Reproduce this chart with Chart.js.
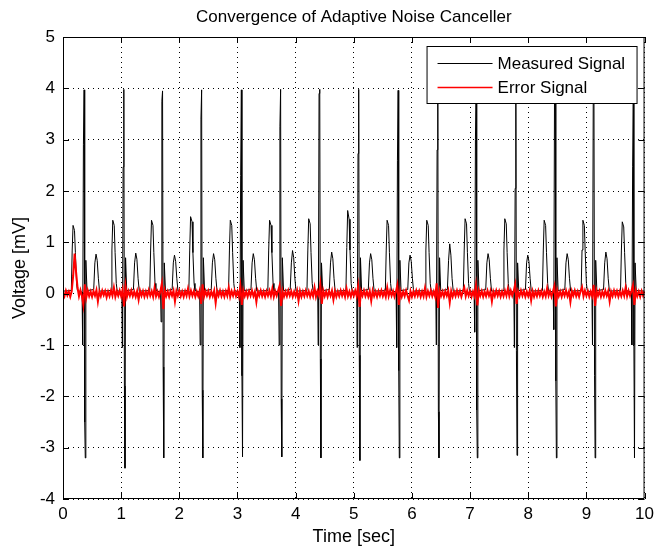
<!DOCTYPE html>
<html>
<head>
<meta charset="utf-8">
<script src="https://cdn.jsdelivr.net/npm/chart.js@4.4.1/dist/chart.umd.min.js"></script>
<style>
  html, body { margin: 0; padding: 0; background: #fff; }
  #wrap { width: 659px; height: 552px; }
</style>
</head>
<body>
<div id="wrap"><canvas id="ancChart" width="659" height="552"></canvas></div>
<script>
const chartTitle = 'Convergence of Adaptive Noise Canceller';
const xTitle = 'Time [sec]';
const yTitle = 'Voltage [mV]';
const seriesNames = ['Measured Signal', 'Error Signal'];
const seriesColors = ['#000000', '#ff0000'];
const xTicks = [0, 1, 2, 3, 4, 5, 6, 7, 8, 9, 10];
const yTicks = [-4, -3, -2, -1, 0, 1, 2, 3, 4, 5];

// measured ECG trace, [time (s), voltage (mV)], one line per wave
const measured = [
  [0, 0.05],
  [0.143,0.06],[0.158,0.85],[0.173,1.33],[0.198,1.23],[0.213,0.8],[0.233,0.2],[0.248,0.06],
  [0.328,0.03],[0.338,-1.0],[0.351,2.9],[0.363,3.97],[0.373,-2.5],[0.383,-3.2],[0.393,0.65],[0.413,0.06],
  [0.528,0.08],[0.548,0.6],[0.568,0.77],[0.588,0.65],[0.608,0.3],[0.628,0.05],
  [0.826,0.06],[0.841,0.85],[0.856,1.43],[0.881,1.33],[0.896,0.8],[0.916,0.2],[0.931,0.06],
  [1.011,0.03],[1.021,-1.05],[1.034,2.47],[1.046,3.98],[1.056,-1.8],[1.066,-3.4],[1.076,0.7],[1.096,0.06],
  [1.211,0.08],[1.231,0.6],[1.251,0.79],[1.271,0.67],[1.291,0.3],[1.311,0.05],
  [1.492,0.06],[1.507,0.85],[1.522,1.43],[1.547,1.33],[1.562,0.8],[1.582,0.2],[1.597,0.06],
  [1.677,0.03],[1.687,-0.55],[1.700,3.75],[1.712,3.95],[1.722,-1.43],[1.732,-3.2],[1.742,0.6],[1.762,0.06],
  [1.877,0.08],[1.897,0.6],[1.917,0.75],[1.937,0.63],[1.957,0.3],[1.977,0.05],
  [2.164,0.06],[2.179,0.85],[2.194,1.5],[2.219,1.4],[2.234,0.8],[2.254,0.2],[2.269,0.06],
  [2.349,0.03],[2.359,-1.0],[2.372,3.4],[2.384,3.97],[2.394,-1.88],[2.404,-3.2],[2.414,0.7],[2.434,0.06],
  [2.549,0.08],[2.569,0.6],[2.589,0.78],[2.609,0.66],[2.629,0.3],[2.649,0.05],
  [2.847,0.06],[2.862,0.85],[2.877,1.43],[2.902,1.33],[2.917,0.8],[2.937,0.2],[2.952,0.06],
  [3.032,0.03],[3.042,-1.05],[3.055,2.3],[3.067,3.97],[3.077,-1.6],[3.087,-3.18],[3.097,0.65],[3.117,0.06],
  [3.232,0.08],[3.252,0.6],[3.272,0.78],[3.292,0.66],[3.312,0.3],[3.332,0.05],
  [3.522,0.06],[3.537,0.85],[3.552,1.43],[3.577,1.33],[3.592,0.8],[3.612,0.2],[3.627,0.06],
  [3.707,0.03],[3.717,-1.0],[3.730,3.25],[3.742,3.98],[3.752,-2.05],[3.762,-3.18],[3.772,0.7],[3.792,0.06],
  [3.907,0.08],[3.927,0.6],[3.947,0.84],[3.967,0.7],[3.987,0.3],[4.007,0.05],
  [4.195,0.06],[4.210,0.85],[4.225,1.46],[4.250,1.36],[4.265,0.8],[4.285,0.2],[4.300,0.06],
  [4.380,0.03],[4.390,-1.0],[4.403,3.9],[4.415,3.98],[4.425,-1.27],[4.435,-3.2],[4.445,0.6],[4.465,0.06],
  [4.580,0.08],[4.600,0.6],[4.620,0.81],[4.640,0.68],[4.660,0.3],[4.680,0.05],
  [4.865,0.06],[4.880,0.9],[4.895,1.62],[4.920,1.45],[4.935,0.85],[4.955,0.2],[4.970,0.06],
  [5.050,0.03],[5.060,-1.05],[5.073,2.73],[5.085,3.98],[5.095,-1.2],[5.105,-3.25],[5.115,0.7],[5.135,0.06],
  [5.250,0.08],[5.270,0.6],[5.290,0.78],[5.310,0.66],[5.330,0.3],[5.350,0.05],
  [5.543,0.06],[5.558,0.85],[5.573,1.43],[5.598,1.33],[5.613,0.8],[5.633,0.2],[5.648,0.06],
  [5.728,0.03],[5.738,-1.05],[5.751,2.6],[5.763,3.96],[5.773,-1.5],[5.783,-3.2],[5.793,0.65],[5.813,0.06],
  [5.928,0.08],[5.948,0.6],[5.968,0.75],[5.988,0.63],[6.008,0.3],[6.028,0.05],
  [6.225,0.06],[6.240,0.85],[6.255,1.43],[6.280,1.33],[6.295,0.8],[6.315,0.2],[6.330,0.06],
  [6.410,0.03],[6.420,-1.0],[6.433,2.8],[6.445,3.98],[6.455,-2.3],[6.465,-3.2],[6.475,0.7],[6.495,0.06],
  [6.610,0.08],[6.630,0.65],[6.650,0.97],[6.670,0.75],[6.690,0.3],[6.710,0.05],
  [6.884,0.06],[6.899,0.85],[6.914,1.46],[6.939,1.36],[6.954,0.8],[6.974,0.2],[6.989,0.06],
  [7.069,0.03],[7.079,-0.75],[7.092,3.0],[7.104,3.97],[7.114,-2.27],[7.124,-3.2],[7.134,0.65],[7.154,0.06],
  [7.269,0.08],[7.289,0.6],[7.309,0.78],[7.329,0.66],[7.349,0.3],[7.369,0.05],
  [7.567,0.06],[7.582,0.85],[7.597,1.46],[7.622,1.36],[7.637,0.8],[7.657,0.2],[7.672,0.06],
  [7.752,0.03],[7.762,-1.05],[7.775,2.05],[7.787,3.97],[7.797,-1.1],[7.807,-3.15],[7.817,0.6],[7.837,0.06],
  [7.952,0.08],[7.972,0.6],[7.992,0.75],[8.012,0.63],[8.032,0.3],[8.052,0.05],
  [8.244,0.06],[8.259,0.85],[8.274,1.43],[8.299,1.33],[8.314,0.8],[8.334,0.2],[8.349,0.06],
  [8.429,0.03],[8.439,-0.7],[8.452,3.9],[8.464,3.97],[8.474,-1.7],[8.484,-3.2],[8.494,0.7],[8.514,0.06],
  [8.629,0.08],[8.649,0.6],[8.669,0.78],[8.689,0.66],[8.709,0.3],[8.729,0.05],
  [8.910,0.06],[8.925,0.85],[8.940,1.43],[8.965,1.33],[8.980,0.8],[9.000,0.2],[9.015,0.06],
  [9.095,0.03],[9.105,-1.0],[9.118,3.9],[9.130,3.97],[9.140,-1.6],[9.150,-3.2],[9.160,0.65],[9.180,0.06],
  [9.295,0.08],[9.315,0.6],[9.335,0.81],[9.355,0.68],[9.375,0.3],[9.395,0.05],
  [9.587,0.06],[9.602,0.85],[9.617,1.4],[9.642,1.3],[9.657,0.8],[9.677,0.2],[9.692,0.06],
  [9.772,0.03],[9.782,-1.0],[9.795,2.47],[9.807,3.97],[9.817,-1.0],[9.827,-3.2],[9.837,0.6],[9.857,0.06],
  [10, 0.05]
];

// error signal, sampled every errorStep seconds (one row = 0.5 s)
const errorStep = 0.025;
const errorVals = [
  0.02,-0.05,0.06,-0.03,0.04,-0.06,0.05,0.35,0.78,0.42,0.12,-0.05,0.07,-0.04,-0.22,0.18,-0.08,0.06,-0.05,0.04,
  -0.06,0.05,-0.04,0.07,-0.15,0.04,-0.05,0.06,-0.03,0.05,-0.07,0.04,-0.05,0.06,-0.04,0.12,-0.06,0.05,-0.04,0.06,
  -0.05,0.08,-0.25,0.15,-0.06,0.05,-0.04,0.06,-0.05,0.04,-0.06,0.05,-0.12,0.06,-0.04,0.05,-0.06,0.04,-0.05,0.07,
  -0.04,0.05,-0.06,0.12,-0.05,0.04,-0.06,0.05,0.2,-0.3,0.06,-0.05,0.04,-0.06,0.05,-0.04,0.06,-0.15,0.05,-0.04,
  0.06,-0.05,0.04,-0.06,0.05,-0.04,0.1,-0.05,0.06,-0.04,0.05,-0.06,0.04,-0.05,0.06,-0.2,0.18,-0.06,0.05,-0.04,
  0.05,-0.06,0.04,-0.05,0.06,-0.18,0.05,-0.04,0.06,-0.05,0.04,-0.06,0.05,-0.04,0.12,-0.06,0.05,-0.04,0.06,-0.05,
  0.04,-0.06,0.15,-0.22,0.06,-0.05,0.04,-0.06,0.05,-0.04,0.06,-0.05,0.04,-0.16,0.05,-0.04,0.06,-0.05,0.04,-0.06,
  0.05,-0.04,0.06,-0.05,0.1,-0.06,0.05,-0.04,0.06,0.16,-0.24,0.05,-0.06,0.04,-0.05,0.06,-0.04,0.05,-0.06,0.04,
  -0.05,0.06,-0.14,0.05,-0.06,0.04,-0.05,0.06,-0.04,0.05,-0.06,0.04,-0.05,0.12,-0.06,0.05,-0.04,0.18,-0.2,0.06,
  -0.05,0.04,-0.06,0.05,-0.04,0.06,-0.12,0.05,-0.06,0.04,-0.05,0.06,-0.04,0.05,-0.06,0.1,-0.05,0.04,-0.06,0.05,
  -0.04,0.06,-0.05,0.15,-0.26,0.05,-0.04,0.06,-0.05,0.04,-0.06,0.05,-0.14,0.06,-0.05,0.04,-0.06,0.05,-0.04,0.06,
  -0.05,0.04,-0.06,0.12,-0.05,0.06,-0.04,0.05,-0.06,0.04,0.17,-0.22,0.05,-0.06,0.04,-0.05,0.06,-0.04,-0.13,0.05,
  -0.06,0.04,-0.05,0.06,-0.04,0.05,-0.06,0.04,-0.05,0.11,-0.06,0.05,-0.04,0.06,-0.05,0.04,-0.06,0.2,-0.28,0.06,
  -0.05,0.04,-0.06,0.05,-0.04,0.06,-0.17,0.05,-0.06,0.04,-0.05,0.06,-0.04,0.05,-0.06,0.04,0.12,-0.05,0.06,-0.04,
  0.05,-0.06,0.04,-0.05,0.16,-0.23,0.06,-0.04,0.05,-0.06,0.04,-0.05,0.06,-0.04,0.05,-0.15,0.04,-0.05,0.06,-0.04,
  0.05,-0.06,0.04,-0.05,0.06,-0.04,0.1,-0.05,0.06,-0.04,0.05,0.18,-0.2,0.04,-0.05,0.06,-0.04,0.05,-0.06,0.04,
  -0.05,0.06,-0.13,0.05,-0.06,0.04,-0.05,0.06,-0.04,0.05,-0.06,0.04,-0.05,0.11,-0.04,0.05,-0.06,0.04,0.15,-0.25,
  0.06,-0.05,0.04,-0.06,0.05,-0.04,0.06,-0.05,0.04,-0.16,0.05,-0.04,0.06,-0.05,0.04,-0.06,0.05,0.13,-0.05,0.06,
  -0.04,0.05,-0.06,0.04,-0.05,0.17,-0.24,0.06,-0.04,0.05,-0.06,0.04,-0.05,0.06,-0.04,0.05,-0.15,0.04,-0.05,0.06,
  -0.04,0.05,-0.06,0.04,-0.05,0.06,-0.04,0.12,-0.05,0.06,-0.04,0.05,0.16,-0.22,0.06,-0.05,0.04,-0.06,0.05,-0.04,
  0.05
];

const FONT = '"Liberation Sans", Arial, Helvetica, sans-serif';

// MATLAB style box: title, frame with inward ticks, legend box
const matlabAxes = {
  id: 'matlabAxes',
  afterDraw(chart) {
    const ctx = chart.ctx;
    const a = chart.chartArea;
    const xs = chart.scales.x, ys = chart.scales.y;
    ctx.save();

    ctx.fillStyle = '#000';
    ctx.font = '17px ' + FONT;
    ctx.textAlign = 'center';
    ctx.textBaseline = 'middle';
    ctx.fillText(chartTitle, (a.left + a.right) / 2, 17);

    ctx.strokeStyle = '#000';
    ctx.lineWidth = 1;
    ctx.beginPath();
    ctx.rect(a.left + 0.5, a.top + 0.5, a.right - a.left - 1, a.bottom - a.top - 1);
    const tl = 6;
    xTicks.forEach(v => {
      const px = Math.round(xs.getPixelForValue(v)) + 0.5;
      ctx.moveTo(px, a.bottom); ctx.lineTo(px, a.bottom - tl);
      ctx.moveTo(px, a.top); ctx.lineTo(px, a.top + tl);
    });
    yTicks.forEach(v => {
      const py = Math.round(ys.getPixelForValue(v)) + 0.5;
      ctx.moveTo(a.left, py); ctx.lineTo(a.left + tl, py);
      ctx.moveTo(a.right, py); ctx.lineTo(a.right - tl, py);
    });
    ctx.stroke();

    // legend
    const bw = 210, bh = 57;
    const bx = a.right - 8 - bw, by = a.top + 9;
    ctx.fillStyle = '#fff';
    ctx.fillRect(bx, by, bw, bh);
    ctx.strokeStyle = '#000';
    ctx.lineWidth = 1;
    ctx.strokeRect(bx + 0.5, by + 0.5, bw, bh);
    ctx.font = '17px ' + FONT;
    ctx.textAlign = 'left';
    seriesNames.forEach((name, i) => {
      const ly = by + 17 + i * 24;
      ctx.beginPath();
      ctx.strokeStyle = seriesColors[i];
      ctx.lineWidth = i === 0 ? 1 : 1.5;
      ctx.moveTo(bx + 11, ly + 0.5);
      ctx.lineTo(bx + 66, ly + 0.5);
      ctx.stroke();
      ctx.fillStyle = '#000';
      ctx.fillText(name, bx + 71, ly + 1);
    });
    ctx.restore();
  }
};

new Chart(document.getElementById('ancChart'), {
  type: 'line',
  data: {
    datasets: [
      {
        label: seriesNames[0],
        data: measured,
        borderColor: seriesColors[0],
        borderWidth: 1,
        pointRadius: 0,
        tension: 0,
        order: 2
      },
      {
        label: seriesNames[1],
        data: errorVals.map((v, i) => [i * errorStep, v]),
        borderColor: seriesColors[1],
        borderWidth: 2,
        pointRadius: 0,
        tension: 0,
        order: 1
      }
    ]
  },
  options: {
    responsive: false,
    animation: false,
    layout: { padding: { top: 37, right: 10, left: 0, bottom: 0 } },
    plugins: {
      legend: { display: false },
      title: { display: false },
      tooltip: { enabled: false }
    },
    scales: {
      x: {
        type: 'linear',
        min: 0,
        max: 10,
        afterFit: s => { s.height = 53; },
        afterBuildTicks: s => { s.ticks = xTicks.map(v => ({ value: v })); },
        grid: { color: '#000', lineWidth: 1, drawTicks: false },
        border: { display: false, dash: [1, 4] },
        ticks: { color: '#000', padding: 5, maxRotation: 0, font: { family: FONT, size: 17 } },
        title: { display: true, text: xTitle, color: '#000', padding: { top: 0, bottom: 4 }, font: { family: FONT, size: 18 } }
      },
      y: {
        type: 'linear',
        min: -4,
        max: 5,
        afterFit: s => { s.width = 63; },
        afterBuildTicks: s => { s.ticks = yTicks.map(v => ({ value: v })); },
        grid: { color: '#000', lineWidth: 1, drawTicks: false },
        border: { display: false, dash: [1, 4] },
        ticks: { color: '#000', padding: 8, font: { family: FONT, size: 17 } },
        title: { display: true, text: yTitle, color: '#000', padding: { top: 9, bottom: 0 }, font: { family: FONT, size: 18 } }
      }
    }
  },
  plugins: [matlabAxes]
});
</script>
</body>
</html>
